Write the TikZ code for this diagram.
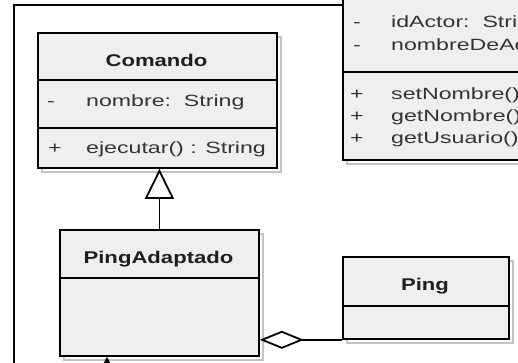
\documentclass[tikz,border=0pt]{standalone}
\usepackage{fontspec}
\setmainfont{Liberation Sans}
\newfontfamily\regf[FakeStretch=1.42]{Liberation Sans}
\newfontfamily\boldf[FakeStretch=1.3]{Liberation Sans}
\usetikzlibrary{arrows.meta}
\definecolor{boxfill}{HTML}{EFEFEF}
\definecolor{shadowc}{HTML}{C4C4C4}
\definecolor{txt}{HTML}{333333}
\tikzset{
  classbox/.style={draw=black, fill=boxfill, line width=1.8pt, inner sep=0pt, anchor=north west},
  shadowbox/.style={draw=shadowc, line width=1.8pt},
  cname/.style={font=\boldf\bfseries\fontsize{17}{20}\selectfont, text=black!88, anchor=base, inner sep=0pt},
  member/.style={font=\regf\fontsize{16.3}{19}\selectfont, text=txt, anchor=base west, inner sep=0pt},
  vis/.style={font=\regf\fontsize{16.3}{19}\selectfont, text=txt, anchor=base, inner sep=0pt},
  divider/.style={line width=1.8pt},
  frameline/.style={line width=1.4pt},
  conn/.style={line width=1.8pt},
}
\begin{document}
\begin{tikzpicture}[x=1pt, y=-1pt, line join=miter]
\useasboundingbox (0,0) rectangle (518,362);
\clip (0,0) rectangle (518,362);
\fill[white] (0,0) rectangle (518,362);

% frame
\coordinate (f1) at (342,5);
\coordinate (f2) at (14,5);
\coordinate (f3) at (14,372);
\draw[frameline] (f1) -- (f2) -- (f3);

% shadows
\draw[shadowbox] (42,37) rectangle (281,172);
\draw[shadowbox] (347,-55) rectangle (605,164);
\draw[shadowbox] (64,234) rectangle (263,360);
\draw[shadowbox] (347,261) rectangle (513,343);

% Comando
\node[classbox, minimum width=239pt, minimum height=135pt] (comando) at (37,32) {};
\draw[divider] (37,80) -- (276,80);
\draw[divider] (37,128) -- (276,128);
\node[cname] (comandoname) at (156.5,66) {Comando};
\node[vis] (cv1) at (51,106) {-};
\node[member] (ca1) at (86,106) {nombre:\ \ String};
\node[vis] (cv2) at (55,153.5) {+};
\node[member] (cm1) at (86,153.5) {ejecutar() : String};

% right class (cut off)
\node[classbox, minimum width=258pt, minimum height=219pt] (usuario) at (342,-60) {};
\draw[divider] (342,72) -- (600,72);
\node[vis] (uv1) at (357,27) {-};
\node[member] (ua1) at (391,27) {idActor:\ \ String};
\node[vis] (uv2) at (357,50) {-};
\node[member] (ua2) at (391,50) {nombreDeActor:\ \ String};
\node[vis] (uv3) at (357,99) {+};
\node[member] (um1) at (391,99) {setNombre()};
\node[vis] (uv4) at (357,121) {+};
\node[member] (um2) at (391,121) {getNombre()};
\node[vis] (uv5) at (357,143) {+};
\node[member] (um3) at (391,143) {getUsuario()};

% PingAdaptado
\node[classbox, minimum width=199pt, minimum height=126pt] (pingadaptado) at (59,229) {};
\draw[divider] (59,278) -- (258,278);
\node[cname] (pingadaptadoname) at (158.5,263) {PingAdaptado};

% Ping
\node[classbox, minimum width=166pt, minimum height=82pt] (ping) at (342,256) {};
\draw[divider] (342,306) -- (508,306);
\node[cname] (pingname) at (425,290) {Ping};

% connectors
\draw[conn, -{Triangle[open, length=30pt, width=29pt, fill=white]}] (pingadaptado.north) -- (pingadaptado.north |- comando.south);
\draw[conn, -{Diamond[open, length=44pt, width=18pt, fill=white]}] (ping.south west) -- (ping.south west -| pingadaptado.east);
\coordinate (barr) at (107,374);
\draw[line width=1.5pt, -{Triangle[length=8pt, width=8pt]}] (barr) -- (barr |- pingadaptado.south);
\end{tikzpicture}
\end{document}
